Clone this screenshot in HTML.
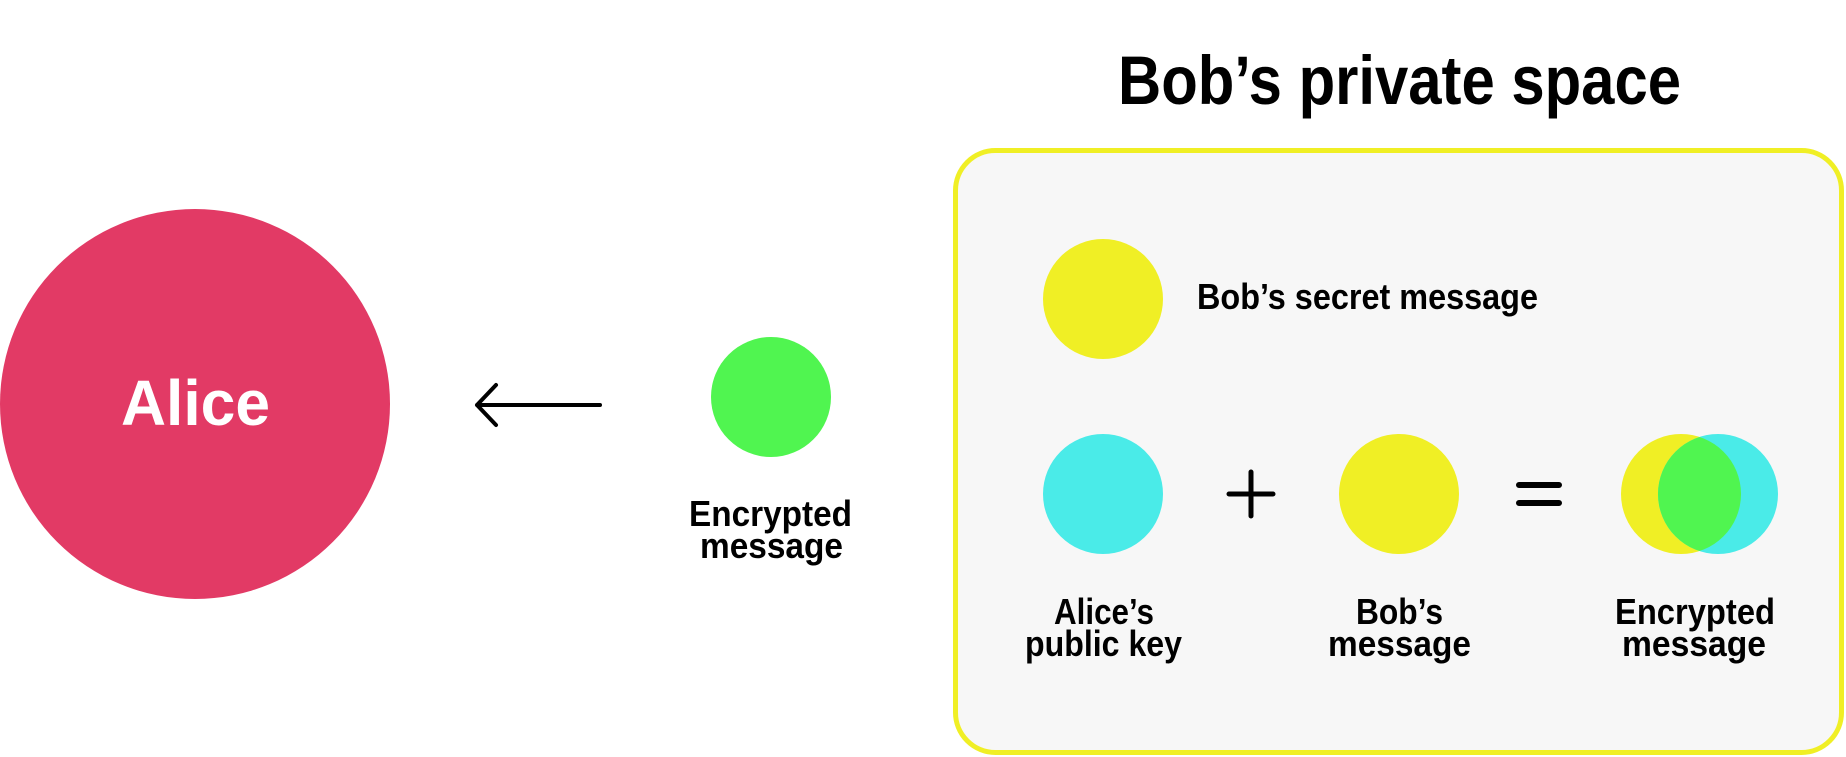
<!DOCTYPE html>
<html><head><meta charset="utf-8"><style>
html,body{margin:0;padding:0;background:#fff;width:1846px;height:757px;overflow:hidden}
svg{display:block}
text{font-family:"Liberation Sans",sans-serif;font-weight:bold;fill:#000}
</style></head><body>
<svg width="1846" height="757" viewBox="0 0 1846 757" xmlns="http://www.w3.org/2000/svg">
<defs><clipPath id="cy"><circle cx="1718" cy="494" r="60"/></clipPath></defs>
<rect x="955.5" y="150.5" width="886" height="602" rx="40" fill="#f7f7f7" stroke="#f0ef25" stroke-width="5"/>
<text x="1118" y="104" font-size="69" textLength="563" lengthAdjust="spacingAndGlyphs">Bob’s private space</text>
<circle cx="195" cy="404" r="195" fill="#e23a65"/>
<text x="121" y="425" font-size="64" textLength="149" lengthAdjust="spacingAndGlyphs" style="fill:#fff">Alice</text>
<path d="M600 405 H477 M496 385 L477 405 L496 425" fill="none" stroke="#000" stroke-width="4" stroke-linecap="round" stroke-linejoin="round"/>
<circle cx="771" cy="397" r="60" fill="#50f550"/>
<text x="689" y="526" font-size="36" textLength="163" lengthAdjust="spacingAndGlyphs">Encrypted</text>
<text x="700" y="558" font-size="36" textLength="143" lengthAdjust="spacingAndGlyphs">message</text>
<circle cx="1103" cy="299" r="60" fill="#f0ef25"/>
<text x="1197" y="309" font-size="36" textLength="341" lengthAdjust="spacingAndGlyphs">Bob’s secret message</text>
<circle cx="1103" cy="494" r="60" fill="#4aebe8"/>
<path d="M1251 472 V516 M1229 494 H1273" stroke="#000" stroke-width="5" stroke-linecap="round"/>
<circle cx="1399" cy="494" r="60" fill="#f0ef25"/>
<path d="M1519 485 H1559 M1519 503 H1559" stroke="#000" stroke-width="6" stroke-linecap="round"/>
<circle cx="1681" cy="494" r="60" fill="#f0ef25"/>
<circle cx="1718" cy="494" r="60" fill="#4aebe8"/>
<circle cx="1681" cy="494" r="60" fill="#50f550" clip-path="url(#cy)"/>
<text x="1054" y="624" font-size="36" textLength="100" lengthAdjust="spacingAndGlyphs">Alice’s</text>
<text x="1025" y="656" font-size="36" textLength="157" lengthAdjust="spacingAndGlyphs">public key</text>
<text x="1356" y="624" font-size="36" textLength="87" lengthAdjust="spacingAndGlyphs">Bob’s</text>
<text x="1328" y="656" font-size="36" textLength="143" lengthAdjust="spacingAndGlyphs">message</text>
<text x="1615" y="624" font-size="36" textLength="160" lengthAdjust="spacingAndGlyphs">Encrypted</text>
<text x="1622" y="656" font-size="36" textLength="144" lengthAdjust="spacingAndGlyphs">message</text>
</svg>
</body></html>
